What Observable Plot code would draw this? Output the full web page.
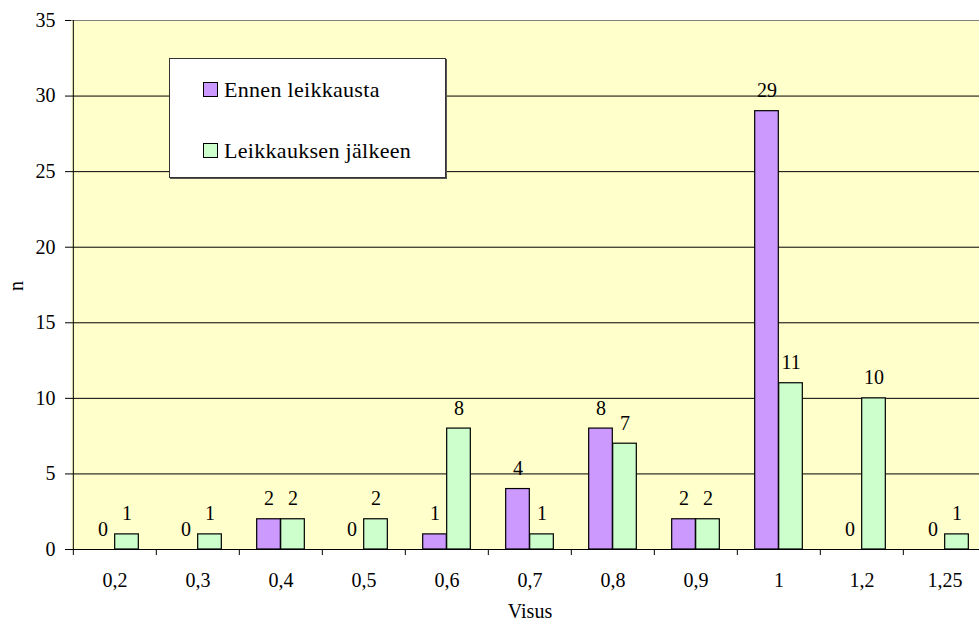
<!DOCTYPE html>
<html>
<head>
<meta charset="utf-8">
<script src="https://cdn.jsdelivr.net/npm/d3@7"></script>
<script src="https://cdn.jsdelivr.net/npm/@observablehq/plot@0.6"></script>
<style>
  html, body { margin: 0; padding: 0; background: #ffffff; }
  #wrap { position: relative; width: 979px; height: 624px; overflow: hidden; font-family: 'Liberation Serif', serif; }
  #legend { position: absolute; left: 169px; top: 58px; width: 275px; height: 118px; background: #ffffff; border: 1px solid #333; box-shadow: 1px 1px 0 #555; }
  .item { position: absolute; left: 33px; font-size: 22px; line-height: 22px; letter-spacing: 0.3px; white-space: nowrap; color: #000; }
  .sw { display: inline-block; width: 13px; height: 13px; border: 1px solid #000; margin-right: 6px; vertical-align: 0px; }
  #ylabel { position: absolute; left: 6px; top: 276px; font-size: 20px; transform: rotate(-90deg); transform-origin: center; width: 20px; text-align: center; line-height: 20px; }
  #xlabel { position: absolute; left: 430px; width: 200px; top: 600px; font-size: 20px; text-align: center; line-height: 22px; }
</style>
</head>
<body>
<div id="wrap"></div>
<script>
// ---- data ----
const categories = ["0,2", "0,3", "0,4", "0,5", "0,6", "0,7", "0,8", "0,9", "1", "1,2", "1,25"];
const before = [0, 0, 2, 0, 1, 4, 8, 2, 29, 0, 0];
const after = [1, 1, 2, 2, 8, 1, 7, 2, 11, 10, 1];
const seriesNames = ["Ennen leikkausta", "Leikkauksen jälkeen"];
const yTicks = [0, 5, 10, 15, 20, 25, 30, 35];
const colors = ["#CC99FF", "#CCFFCC"];
const xTitle = "Visus";
const yTitle = "n";

// ---- layout ----
const W = 979, H = 624;
const xRange = [71, 988];
const step = (xRange[1] - xRange[0]) / categories.length;
const barW = 24;
const font = "'Liberation Serif', serif";

const A = categories.map((c, i) => ({cat: c, series: seriesNames[0], n: before[i]}));
const B = categories.map((c, i) => ({cat: c, series: seriesNames[1], n: after[i]}));

const chart = Plot.plot({
  width: W,
  height: H,
  marginLeft: 71,
  marginTop: 20,
  marginBottom: 75,
  marginRight: 0,
  style: {fontFamily: font, fontSize: "20px", background: "transparent", color: "#000", overflow: "visible"},
  x: {type: "band", domain: categories, range: xRange, padding: 0, axis: null},
  y: {domain: [0, 35], axis: null},
  marks: [
    Plot.frame({fill: "#FFFFCC", stroke: "none"}),
    Plot.ruleY(yTicks.filter(t => t > 0 && t < 35), {stroke: "#000"}),
    Plot.ruleY([35], {stroke: "#808080"}),
    Plot.barY(A.filter(d => d.n > 0), {x: "cat", y: "n", fill: colors[0], stroke: "#000", strokeWidth: 1.2, insetLeft: step / 2 - barW, insetRight: step / 2}),
    Plot.barY(B.filter(d => d.n > 0), {x: "cat", y: "n", fill: colors[1], stroke: "#000", strokeWidth: 1.2, insetLeft: step / 2, insetRight: step / 2 - barW}),
    Plot.ruleY([0], {stroke: "#000"}),
    Plot.ruleX([categories[0]], {x: d => d, dx: -step / 2, y1: 0, y2: 35, stroke: "#000"}),
    Plot.ruleX(categories, {x: d => d, dx: -step / 2, y1: 0, y2: -0.4, stroke: "#000"}),
    Plot.axisY({ticks: yTicks, tickSize: 6, tickPadding: 10, fontSize: 20, label: null, stroke: "#000", fontFamily: font}),
    Plot.axisX({tickSize: 0, tickPadding: 23, fontSize: 20, label: null, fontFamily: font}),
    Plot.text(A, {x: "cat", y: "n", text: "n", dx: -barW / 2, dy: -14, lineAnchor: "bottom", fontSize: 20, fontFamily: font}),
    Plot.text(B, {x: "cat", y: "n", text: "n", dx: barW / 2, dy: -14, lineAnchor: "bottom", fontSize: 20, fontFamily: font})
  ]
});

const wrap = document.getElementById("wrap");
wrap.appendChild(chart);

// legend (inside plot area)
const legend = document.createElement("div");
legend.id = "legend";
seriesNames.forEach((name, i) => {
  const it = document.createElement("div");
  it.className = "item";
  it.style.top = (i === 0 ? 20 : 81) + "px";
  const sw = document.createElement("span");
  sw.className = "sw";
  sw.style.background = colors[i];
  it.appendChild(sw);
  it.appendChild(document.createTextNode(name));
  legend.appendChild(it);
});
wrap.appendChild(legend);

const yl = document.createElement("div");
yl.id = "ylabel";
yl.textContent = yTitle;
wrap.appendChild(yl);

const xl = document.createElement("div");
xl.id = "xlabel";
xl.textContent = xTitle;
wrap.appendChild(xl);
</script>
</body>
</html>
